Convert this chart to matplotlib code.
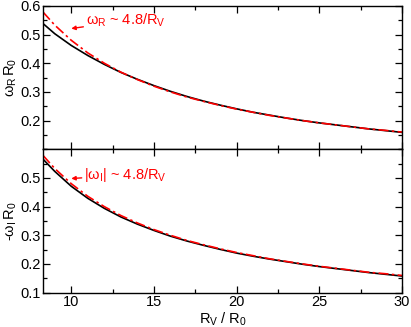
import numpy as np
import matplotlib.pyplot as plt
from matplotlib.ticker import MultipleLocator

plt.rcParams['font.family'] = ['Liberation Sans', 'DejaVu Sans']
plt.rcParams['mathtext.fontset'] = 'custom'
plt.rcParams['mathtext.rm'] = 'Liberation Sans'
plt.rcParams['mathtext.it'] = 'Liberation Sans'

# -----------------------------
# Data
# -----------------------------
rv = [8.3, 9, 10, 11, 12, 13, 14, 15, 16, 17, 18, 19, 20, 21, 22, 23, 24, 25,
      26, 27, 28, 29, 30]

# real part, exact (black) and 4.8/Rv fit (red)
wr_exact = [0.538, 0.503, 0.462, 0.427, 0.396, 0.368, 0.344, 0.322, 0.302,
            0.284, 0.268, 0.254, 0.241, 0.229, 0.219, 0.209, 0.200, 0.192,
            0.185, 0.178, 0.171, 0.165, 0.159]
wr_fit = [0.578, 0.533, 0.480, 0.436, 0.400, 0.369, 0.343, 0.320, 0.300,
          0.282, 0.267, 0.253, 0.240, 0.229, 0.218, 0.209, 0.200, 0.192,
          0.185, 0.178, 0.171, 0.166, 0.160]

# imaginary part
wi_exact = [0.565, 0.523, 0.471, 0.429, 0.394, 0.364, 0.339, 0.317, 0.297,
            0.280, 0.265, 0.251, 0.238, 0.227, 0.217, 0.208, 0.199, 0.191,
            0.184, 0.177, 0.170, 0.164, 0.158]
wi_fit = wr_fit

red = '#ff0000'
dashdot = (0, (6, 2, 1.5, 2))

fig, (ax1, ax2) = plt.subplots(2, 1, figsize=(4.11, 3.27), dpi=100, sharex=True)
fig.subplots_adjust(left=0.105, right=0.978, top=0.982, bottom=0.105, hspace=0)

for ax in (ax1, ax2):
    ax.set_xlim(8.3, 30)
    ax.set_ylim(0.1, 0.6)
    ax.xaxis.set_major_locator(MultipleLocator(5))
    ax.xaxis.set_minor_locator(MultipleLocator(2.5))
    ax.yaxis.set_major_locator(MultipleLocator(0.1))
    ax.yaxis.set_minor_locator(MultipleLocator(0.05))
    ax.tick_params(which='both', direction='in', top=True, right=True,
                   labelsize=10.5, width=0.9, pad=2)
    ax.tick_params(which='major', length=5)
    ax.tick_params(which='minor', length=3)
    for s in ax.spines.values():
        s.set_linewidth(1.0)

# top panel
ax1.plot(rv, wr_exact, color='black', lw=1.2)
ax1.plot(rv, wr_fit, color=red, lw=1.2, linestyle=dashdot)
ax1.set_yticks([0.2, 0.3, 0.4, 0.5, 0.6])
ax1.set_ylabel(r'$\omega_R\,R_0$', fontsize=10.5, labelpad=1)
ax1.annotate(r'$\omega_R$ ~ 4.8/$R_V$', xy=(10.0, 0.521), xytext=(10.9, 0.548),
             color=red, fontsize=10.5, va='center',
             arrowprops=dict(arrowstyle='-|>', color=red, lw=1.0,
                             mutation_scale=6, shrinkA=0, shrinkB=0))

# bottom panel
ax2.plot(rv, wi_exact, color='black', lw=1.2)
ax2.plot(rv, wi_fit, color=red, lw=1.2, linestyle=dashdot)
ax2.set_yticks([0.1, 0.2, 0.3, 0.4, 0.5])
ax2.set_ylabel(r'-$\omega_I\,R_0$', fontsize=10.5, labelpad=1)
ax2.annotate(r'|$\omega_I$| ~ 4.8/$R_V$', xy=(10.0, 0.498), xytext=(10.8, 0.51),
             color=red, fontsize=10.5, va='center',
             arrowprops=dict(arrowstyle='-|>', color=red, lw=1.0,
                             mutation_scale=6, shrinkA=0, shrinkB=0))
ax2.set_xlabel(r'$R_V$ / $R_0$', fontsize=10.5, labelpad=1)

plt.savefig('out.png', dpi=100)
